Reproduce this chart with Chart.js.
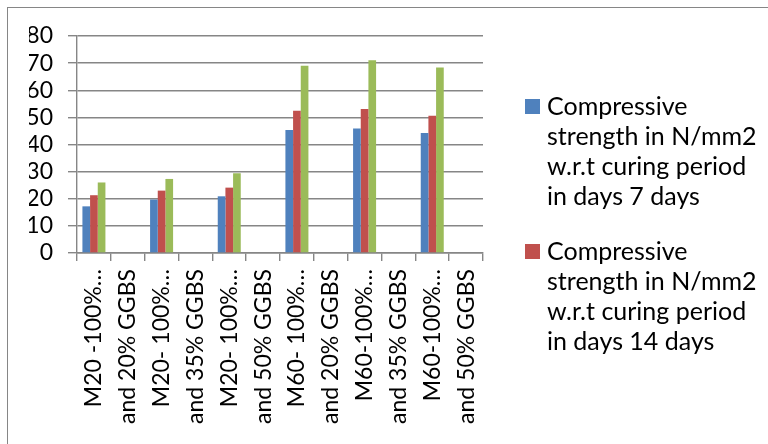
<!DOCTYPE html>
<html>
<head>
<meta charset="utf-8">
<script src="https://cdn.jsdelivr.net/npm/chart.js@4/dist/chart.umd.min.js"></script>
<style>
  html, body { margin: 0; padding: 0; background: #fff; }
  #wrap { position: relative; width: 768px; height: 444px; overflow: hidden; background: #fff; }
  #frame { position: absolute; left: 7px; top: 7px; width: 900px; height: 700px; border: 1px solid #868686; box-sizing: border-box; }
  #c { position: absolute; left: 0; top: 0; }
  #legend { position: absolute; left: 525px; top: 90px; font-family: Lato, "Open Sans", sans-serif; font-size: 25px; line-height: 30px; color: #000; }
  .item { position: relative; padding-left: 22px; width: 222px; margin-bottom: 25px; }
  .swatch { position: absolute; left: 0; top: 9px; width: 15px; height: 15px; }
</style>
</head>
<body>
<div id="wrap">
  <div id="frame"></div>
  <canvas id="c" width="768" height="444"></canvas>
  <div id="legend"></div>
</div>
<script>
// Mix designs (category axis) – each mix name spans two category slots
const categories = [
  "M20 -100%…", "and 20% GGBS",
  "M20- 100%…", "and 35% GGBS",
  "M20- 100%…", "and 50% GGBS",
  "M60- 100%…", "and 20% GGBS",
  "M60-100%…", "and 35% GGBS",
  "M60-100%…", "and 50% GGBS"
];

// Compressive strength (N/mm2) by curing period
const strength7 = [17.2, null, 19.7, null, 20.9, null, 45.3, null, 45.9, null, 44.2, null];
const strength14 = [21.3, null, 23.0, null, 24.1, null, 52.4, null, 53.1, null, 50.6, null];
const strength28 = [26.0, null, 27.3, null, 29.4, null, 69.0, null, 71.1, null, 68.4, null];

const seriesLabels = [
  "Compressive strength in N/mm2 w.r.t curing period in days 7 days",
  "Compressive strength in N/mm2 w.r.t curing period in days 14 days",
  "Compressive strength in N/mm2 w.r.t curing period in days 28 days"
];

const yTicks = [0, 10, 20, 30, 40, 50, 60, 70, 80];

const colors = ["#4F81BD", "#C0504D", "#9BBB59"];
const axisColor = "#868686";
const tickFont = { family: "Lato, 'Open Sans', sans-serif", size: 23 };

const seriesValues = [strength7, strength14, strength28];
const datasets = seriesValues.map((vals, i) => ({
  label: seriesLabels[i],
  data: vals,
  backgroundColor: colors[i],
  borderWidth: 0,
  categoryPercentage: 0.68,
  barPercentage: 1.0
}));

const chart = new Chart(document.getElementById("c"), {
  type: "bar",
  data: { labels: categories, datasets },
  options: {
    responsive: false,
    animation: false,
    devicePixelRatio: 1,
    layout: { padding: { left: 29, right: 285, top: 36, bottom: 0 } },
    plugins: { legend: { display: false }, tooltip: { enabled: false } },
    scales: {
      x: {
        grid: { offset: true, drawOnChartArea: false, drawTicks: true, tickLength: 8, color: axisColor, lineWidth: 1.4 },
        border: { color: axisColor, width: 1.4 },
        ticks: { font: tickFont, color: "#000", minRotation: 90, maxRotation: 90, autoSkip: false, padding: 8 },
        afterFit: (s) => { s.height = 191; }
      },
      y: {
        min: yTicks[0],
        max: yTicks[yTicks.length - 1],
        afterBuildTicks: (s) => { s.ticks = yTicks.map(v => ({ value: v })); },
        grid: { color: axisColor, lineWidth: 1.4, tickLength: 9 },
        border: { color: axisColor, width: 1.4 },
        ticks: { font: tickFont, color: "#000", padding: 15, autoSkip: false },
        afterFit: (s) => { s.width = 48; }
      }
    }
  }
});

// Legend entries that fit beside the plot (the first two series)
const legend = document.getElementById("legend");
chart.data.datasets.slice(0, 2).forEach((ds) => {
  const item = document.createElement("div");
  item.className = "item";
  const sw = document.createElement("span");
  sw.className = "swatch";
  sw.style.background = ds.backgroundColor;
  const txt = document.createElement("span");
  txt.textContent = ds.label;
  item.appendChild(sw);
  item.appendChild(txt);
  legend.appendChild(item);
});
</script>
</body>
</html>
